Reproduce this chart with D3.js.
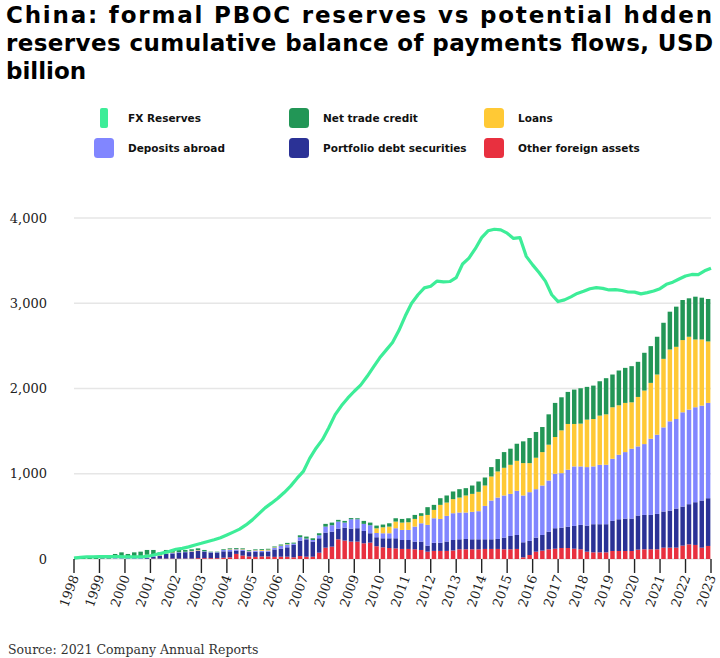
<!DOCTYPE html>
<html>
<head>
<meta charset="utf-8">
<script src="https://cdn.jsdelivr.net/npm/d3@7"></script>
<style>
  body { margin: 0; background: #fff; }
  svg { display: block; font-family: "DejaVu Sans", sans-serif; }
  .title { font-weight: bold; font-size: 23px; fill: #000; }
  .legend-label { font-weight: bold; font-size: 10.5px; fill: #111; }
  .grid-line { stroke: #e6e6e6; stroke-width: 1.3; }
  .tick-label { font-family: "DejaVu Serif", serif; font-size: 13px; fill: #222; }
  .source { font-family: "DejaVu Serif", serif; font-size: 12.5px; fill: #333; }
</style>
</head>
<body>
<div id="wrapper"></div>
<script>
// year ticks and y ticks
const yearTicks = [1998, 1999, 2000, 2001, 2002, 2003, 2004, 2005, 2006, 2007, 2008, 2009, 2010,
  2011, 2012, 2013, 2014, 2015, 2016, 2017, 2018, 2019, 2020, 2021, 2022, 2023];
const yTicks = [0, 1000, 2000, 3000, 4000];

// quarterly bars, 1998 Q1 .. 2022 Q4 (USD bn)
const otherAssets = [
  20, 0, 0, 0,  0, 0, 0, 0,  0, 0, 0, 0,  5, 5, 5, 5,  5, 5, 5, 10,
  10, 10, 10, 15,  20, 60, 40, 30,  25, 30, 30, 25,  27, 27, 20, 35,  27, 27, 74, 133,
  145, 231, 216, 204,  204, 184, 192, 150,  137, 129, 125, 118,  118, 114, 106, 86,  95, 95, 95, 100,
  114, 114, 114, 114,  118, 118, 118, 114,  114, 118, 20, 47,  86, 98, 114, 121,  129, 129, 121, 114,
  86, 78, 78, 78,  94, 94, 94, 94,  110, 114, 114, 114,  133, 133, 133, 157,  172, 165, 133, 153];
const portfolioDebt = [
  0, 0, 0, 0,  0, 0, 0, 0,  5, 5, 5, 10,  20, 30, 55, 60,  70, 75, 80, 85,
  75, 65, 65, 75,  70, 39, 55, 51,  59, 51, 55, 87,  95, 110, 145, 181,  204, 177, 169, 177,
  176, 126, 152, 153,  157, 145, 110, 105,  106, 114, 118, 105,  105, 90, 98, 71,  95, 95, 110, 123,
  117, 121, 117, 117,  113, 113, 117, 137,  156, 164, 176, 165,  165, 184, 207, 240,  239, 251, 267, 286,
  306, 330, 330, 330,  353, 372, 380, 380,  400, 403, 403, 415,  424, 435, 459, 458,  471, 501, 553, 560];
const depositsAbroad = [
  0, 0, 0, 0,  5, 5, 10, 10,  10, 10, 10, 10,  10, 5, 5, 5,  5, 5, 5, 5,
  5, 5, 5, 15,  20, 15, 15, 10,  15, 15, 15, 20,  31, 31, 15, 39,  8, 19, 35, 70,
  75, 82, 59, 109,  105, 83, 94, 50,  59, 59, 118, 118,  118, 176, 215, 243,  288, 280, 301, 314,
  314, 310, 322, 330,  392, 455, 486, 494,  494, 518, 549, 572,  568, 580, 600, 639,  639, 667, 698, 686,
  686, 678, 697, 697,  729, 757, 780, 820,  811, 831, 894, 929,  987, 1047, 1050, 1106,  1109, 1114, 1113, 1118];
const loans = [
  0, 0, 0, 0,  0, 0, 5, 5,  5, 15, 20, 30,  20, 5, 5, 5,  0, 0, 5, 5,
  0, 0, 0, 0,  5, 5, 5, 5,  5, 10, 10, 5,  5, 5, 0, 0,  0, 0, 0, 0,
  0, 0, 0, 0,  0, 0, 0, 55,  70, 78, 78, 86,  90, 90, 87, 117,  98, 165, 156, 165,
  176, 200, 211, 227,  239, 282, 306, 325,  341, 352, 380, 341,  369, 392, 420, 431,  502, 537, 498, 502,
  557, 556, 577, 592,  604, 580, 577, 544,  580, 628, 655, 706,  804, 843, 847, 847,  855, 795, 776, 721];
const netTradeCredit = [
  6, 15, 28, 15,  30, 30, 44, 63,  39, 48, 51, 56,  51, 33, 36, 31,  26, 21, 19, 20,
  16, 6, 6, 9,  10, 10, 10, 9,  9, 10, 10, 10,  12, 16, 12, 23,  24, 20, 24, 32,
  31, 20, 20, 14,  12, 35, 31, 32,  32, 39, 39, 43,  47, 47, 31, 91,  59, 78, 83, 90,
  98, 86, 98, 121,  94, 110, 145, 184,  189, 200, 255, 294,  302, 294, 356, 400,  388, 376, 403, 415,
  384, 392, 403, 424,  384, 408, 411, 424,  412, 443, 431, 443,  423, 443, 471, 470,  451, 502, 490, 498];

// FX reserves line, quarter starts 1998 Q1 .. 2023 Q1
const fxReserves = [
  10, 20, 25, 25,  27, 27, 27, 27,  25, 25, 25, 28,  38, 55, 72, 90,  114, 125, 142, 165,
  184, 205, 225, 250,  282, 315, 350, 400,  459, 530, 600, 655,  713, 780, 855, 945,  1027, 1180, 1300, 1400,
  1540, 1693, 1800, 1889,  1968, 2040, 2140, 2250,  2360, 2450, 2540, 2680,  2850, 3000, 3100, 3180,  3200, 3260, 3250, 3255,
  3300, 3460, 3530, 3640,  3770, 3850, 3868, 3860,  3822, 3760, 3770, 3550,  3450, 3360, 3260, 3100,  3020, 3040, 3075, 3115,
  3140, 3170, 3183, 3175,  3156, 3160, 3150, 3132,  3130, 3110, 3125, 3144,  3171, 3222, 3247, 3285,  3320, 3338, 3335, 3380,
  3410];

const seriesKeys = ["other", "portfolio", "deposits", "loans", "trade"];
const seriesColors = {
  other: "#e8303f",
  portfolio: "#2b3296",
  deposits: "#8186ff",
  loans: "#ffc935",
  trade: "#229656",
};
const fxColor = "#3ded98";

const legendItems = [
  { label: "FX Reserves", color: fxColor, line: true },
  { label: "Net trade credit", color: seriesColors.trade },
  { label: "Loans", color: seriesColors.loans },
  { label: "Deposits abroad", color: seriesColors.deposits },
  { label: "Portfolio debt securities", color: seriesColors.portfolio },
  { label: "Other foreign assets", color: seriesColors.other },
];

const titleLines = [
  "China: formal PBOC reserves vs potential hdden",
  "reserves cumulative balance of payments flows, USD",
  "billion",
];

function drawChart() {
  const table = otherAssets.map((d, i) => ({
    q: i,
    other: otherAssets[i],
    portfolio: portfolioDebt[i],
    deposits: depositsAbroad[i],
    loans: loans[i],
    trade: netTradeCredit[i],
  }));

  const dimensions = {
    width: 720,
    height: 658,
    left: 74,
    right: 711,
    top: 218,
    bottom: 559,
  };

  const svg = d3
    .select("#wrapper")
    .append("svg")
    .attr("width", dimensions.width)
    .attr("height", dimensions.height);

  svg.append("rect").attr("width", 720).attr("height", 658).attr("fill", "#fff");

  // title
  const title = svg.append("g");
  const titleWidths = [706, 707, null];
  titleLines.forEach((t, i) => {
    const el = title
      .append("text")
      .attr("class", "title")
      .attr("x", 6)
      .attr("y", 23 + i * 28)
      .text(t);
    if (titleWidths[i]) {
      el.attr("textLength", titleWidths[i]).attr("lengthAdjust", "spacing");
    }
  });

  // legend
  const legend = svg.append("g");
  const colX = [94, 289, 484];
  const rowY = [108, 138];
  legendItems.forEach((d, i) => {
    const cx = colX[i % 3];
    const cy = rowY[Math.floor(i / 3)];
    if (d.line) {
      legend.append("rect")
        .attr("x", cx + 6).attr("y", cy).attr("width", 8).attr("height", 20)
        .attr("rx", 2).attr("fill", d.color);
    } else {
      legend.append("rect")
        .attr("x", cx).attr("y", cy).attr("width", 20).attr("height", 20)
        .attr("rx", 3.5).attr("fill", d.color);
    }
    legend.append("text")
      .attr("class", "legend-label")
      .attr("x", cx + 34)
      .attr("y", cy + 14)
      .text(d.label);
  });

  // scales
  const yScale = d3.scaleLinear().domain([0, 4000]).range([dimensions.bottom, dimensions.top]);
  const timeScale = d3.scaleLinear().domain([1998, 2023]).range([dimensions.left, dimensions.right]);
  const xBand = d3
    .scaleBand()
    .domain(d3.range(table.length))
    .range([dimensions.left, dimensions.right])
    .paddingInner(0.3)
    .paddingOuter(0.1);

  // grid
  const grid = svg.append("g");
  grid.selectAll("line")
    .data(yTicks)
    .join("line")
    .attr("class", "grid-line")
    .attr("x1", dimensions.left)
    .attr("x2", dimensions.right)
    .attr("y1", (d) => yScale(d))
    .attr("y2", (d) => yScale(d));

  grid.selectAll("text")
    .data(yTicks)
    .join("text")
    .attr("class", "tick-label")
    .attr("x", 47)
    .attr("y", (d) => yScale(d) + 4.5)
    .attr("text-anchor", "end")
    .text((d) => d3.format(",")(d));

  // stacked bars
  const stacked = d3.stack().keys(seriesKeys)(table);
  const bars = svg.append("g");
  bars.selectAll("g")
    .data(stacked)
    .join("g")
    .attr("fill", (s) => seriesColors[s.key])
    .selectAll("rect")
    .data((s) => s)
    .join("rect")
    .attr("x", (d) => xBand(d.data.q))
    .attr("width", xBand.bandwidth())
    .attr("y", (d) => yScale(d[1]))
    .attr("height", (d) => Math.max(0, yScale(d[0]) - yScale(d[1])));

  // FX reserves line
  const line = d3
    .line()
    .x((d, i) => timeScale(1998 + i / 4))
    .y((d) => yScale(d))
    .curve(d3.curveLinear);

  svg.append("path")
    .datum(fxReserves)
    .attr("fill", "none")
    .attr("stroke", fxColor)
    .attr("stroke-width", 3.2)
    .attr("stroke-linejoin", "round")
    .attr("d", line);

  // x axis ticks + rotated year labels
  const xAxis = svg.append("g");
  xAxis.selectAll("line")
    .data(yearTicks)
    .join("line")
    .attr("x1", (d) => timeScale(d))
    .attr("x2", (d) => timeScale(d))
    .attr("y1", dimensions.bottom)
    .attr("y2", dimensions.bottom + 14)
    .attr("stroke", "#222")
    .attr("stroke-width", 1.4);

  xAxis.selectAll("text")
    .data(yearTicks)
    .join("text")
    .attr("class", "tick-label")
    .attr("text-anchor", "end")
    .attr("transform", (d) => `translate(${timeScale(d) + 5},${dimensions.bottom + 18}) rotate(-70)`)
    .text((d) => d);

  // source
  svg.append("text")
    .attr("class", "source")
    .attr("x", 8)
    .attr("y", 654)
    .text("Source: 2021 Company Annual Reports");
}
drawChart();
</script>
</body>
</html>
